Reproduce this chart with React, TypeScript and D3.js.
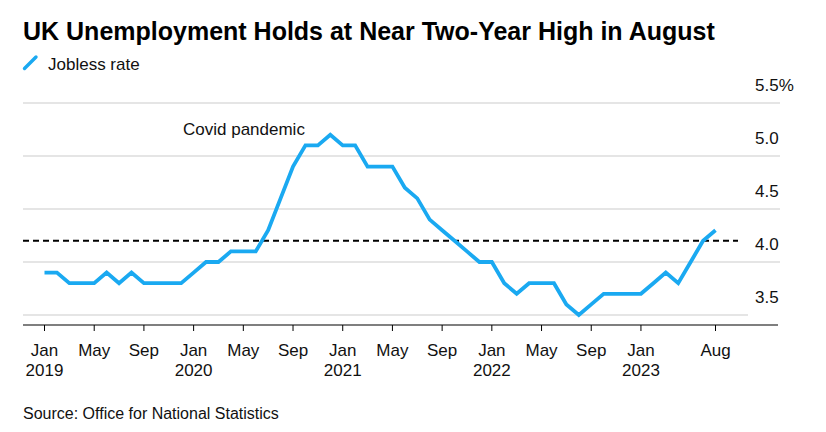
import React from "react";
import * as d3 from "d3";

// Monthly jobless rate (%), Jan 2019 .. Jul/Aug 2023 (3-month periods)
const joblessRate: number[] = [
  3.9, 3.9, 3.8, 3.8, 3.8, 3.9, 3.8, 3.9, 3.8, 3.8, 3.8, 3.8,
  3.9, 4.0, 4.0, 4.1, 4.1, 4.1, 4.3, 4.6, 4.9, 5.1, 5.1, 5.2,
  5.1, 5.1, 4.9, 4.9, 4.9, 4.7, 4.6, 4.4, 4.3, 4.2, 4.1, 4.0,
  4.0, 3.8, 3.7, 3.8, 3.8, 3.8, 3.6, 3.5, 3.6, 3.7, 3.7, 3.7,
  3.7, 3.8, 3.9, 3.8, 4.0, 4.2, 4.3,
];
const xTickIndex: number[] = [0, 4, 8, 12, 16, 20, 24, 28, 32, 36, 40, 44, 48, 54];
const xTickMonth: string[] = ["Jan", "May", "Sep", "Jan", "May", "Sep", "Jan", "May", "Sep", "Jan", "May", "Sep", "Jan", "Aug"];
const xTickYear: string[] = ["2019", "", "", "2020", "", "", "2021", "", "", "2022", "", "", "2023", ""];
const yTicks: number[] = [3.5, 4.0, 4.5, 5.0, 5.5];
const referenceLevel = 4.2;

const title = "UK Unemployment Holds at Near Two-Year High in August";
const legendLabel = "Jobless rate";
const annotation = "Covid pandemic";
const source = "Source: Office for National Statistics";

const FONT = "'Liberation Sans', Arial, Helvetica, sans-serif";
const BLUE = "#1aa9f1";

export default function App() {
  const W = 826, H = 432;
  const x = d3.scaleLinear().domain([0, 54]).range([44.5, 715.5]);
  const y = d3.scaleLinear().domain([3.5, 5.5]).range([315, 103]);
  const line = d3
    .line<number>()
    .x((_, i) => x(i))
    .y((d) => y(d))
    .curve(d3.curveLinear);

  const plotLeft = 23;
  const axisY = 325;

  return (
    <svg
      width={W}
      height={H}
      style={{ position: "absolute", left: 0, top: 0, background: "#fff" }}
      fontFamily={FONT}
    >
      <rect width={W} height={H} fill="#fff" />
      <text x={23} y={39.5} fontSize={25} fontWeight="bold" fill="#000">
        {title}
      </text>
      {/* legend */}
      <line x1={24.5} y1={68.5} x2={36} y2={57} stroke={BLUE} strokeWidth={3.4} strokeLinecap="round" />
      <text x={48} y={70} fontSize={17} fill="#111">
        {legendLabel}
      </text>

      {/* gridlines */}
      {yTicks.map((t, i) => (
        <line
          key={"g" + t}
          x1={plotLeft}
          x2={i === 0 ? 748 : 780}
          y1={y(t)}
          y2={y(t)}
          stroke="#dcdcdc"
          strokeWidth={1.5}
        />
      ))}
      {yTicks.map((t) => (
        <text key={"yl" + t} x={755} y={y(t) - 12} fontSize={17} fill="#111">
          {t.toFixed(1) + (t === 5.5 ? "%" : "")}
        </text>
      ))}

      {/* reference dashed line */}
      <line
        x1={plotLeft}
        x2={738}
        y1={y(referenceLevel)}
        y2={y(referenceLevel)}
        stroke="#000"
        strokeWidth={2}
        strokeDasharray="6,4"
      />

      {/* data line */}
      <path
        d={line(joblessRate) || ""}
        fill="none"
        stroke={BLUE}
        strokeWidth={3.8}
        strokeLinejoin="miter"
        strokeLinecap="butt"
      />

      <text x={183} y={135} fontSize={17} fill="#111">
        {annotation}
      </text>

      {/* x axis */}
      <line x1={plotLeft} x2={778} y1={axisY} y2={axisY} stroke="#000" strokeWidth={1.2} />
      {xTickIndex.map((idx, i) => (
        <g key={"xt" + i} transform={`translate(${x(idx)},0)`}>
          <line y1={axisY} y2={axisY + 6} stroke="#000" strokeWidth={1} />
          <text y={356} fontSize={17} textAnchor="middle" fill="#111">
            {xTickMonth[i]}
          </text>
          {xTickYear[i] && (
            <text y={376} fontSize={17} textAnchor="middle" fill="#111">
              {xTickYear[i]}
            </text>
          )}
        </g>
      ))}

      <text x={23} y={418.5} fontSize={16} fill="#111">
        {source}
      </text>
    </svg>
  );
}
